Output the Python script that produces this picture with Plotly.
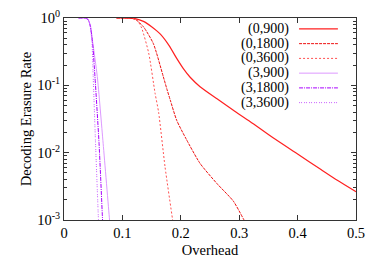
import plotly.graph_objects as go

# ---- data (overhead vs decoding erasure rate, exponents of 10) ----
x_0_900 = [0.09, 0.110, 0.122, 0.136, 0.150, 0.165, 0.180, 0.193, 0.205, 0.216, 0.233, 0.262, 0.290, 0.319, 0.358, 0.400, 0.440, 0.468, 0.500]
y_0_900 = [0.0, -0.001, -0.01, -0.05, -0.13, -0.24, -0.41, -0.60, -0.76, -0.88, -1.02, -1.20, -1.37, -1.54, -1.78, -2.02, -2.25, -2.41, -2.58]

x_0_1800 = [0.09, 0.110, 0.122, 0.136, 0.153, 0.170, 0.176, 0.182, 0.193, 0.210, 0.233, 0.262, 0.290, 0.307, 0.312]
y_0_1800 = [0.0, -0.001, -0.02, -0.13, -0.38, -0.87, -1.05, -1.22, -1.52, -1.81, -2.16, -2.46, -2.72, -2.98, -3.06]

x_0_3600 = [0.09, 0.110, 0.120, 0.126, 0.133, 0.145, 0.156, 0.162, 0.173, 0.186, 0.190]
y_0_3600 = [0.0, -0.001, -0.01, -0.04, -0.15, -0.52, -1.12, -1.40, -2.21, -3.0, -3.25]

x_3_900 = [0.025, 0.036, 0.041, 0.045, 0.049, 0.057, 0.067, 0.078, 0.080]
y_3_900 = [0.0, -0.001, -0.02, -0.10, -0.35, -0.87, -1.86, -3.0, -3.2]

x_3_1800 = [0.025, 0.036, 0.041, 0.045, 0.049, 0.053, 0.060, 0.066, 0.067]
y_3_1800 = [0.0, -0.001, -0.02, -0.12, -0.38, -0.87, -1.86, -3.0, -3.2]

x_3_3600 = [0.025, 0.036, 0.041, 0.045, 0.048, 0.050, 0.054, 0.059, 0.060]
y_3_3600 = [0.0, -0.001, -0.02, -0.13, -0.38, -0.87, -1.86, -3.0, -3.2]

series_names = ["(0,900)", "(0,1800)", "(0,3600)", "(3,900)", "(3,1800)", "(3,3600)"]
y_tick_vals = [1, 0.1, 0.01, 0.001]
y_tick_text = ["10<sup>0</sup>", "10<sup>-1</sup>", "10<sup>-2</sup>", "10<sup>-3</sup>"]
x_tick_vals = [0, 0.1, 0.2, 0.3, 0.4, 0.5]
x_tick_text = ["0", "0.1", "0.2", "0.3", "0.4", "0.5"]

series = [
    (x_0_900, y_0_900, "#ff2020", "solid", 1.2),
    (x_0_1800, y_0_1800, "#ee1010", "3px,1px", 1.0),
    (x_0_3600, y_0_3600, "#ff5050", "2px,2px", 1.0),
    (x_3_900, y_3_900, "#dd99ff", "solid", 1.0),
    (x_3_1800, y_3_1800, "#a800ff", "4px,1px,1px,1px", 1.0),
    (x_3_3600, y_3_3600, "#c860ff", "1px,1px,1px,2px", 1.0),
]

FONT = "Liberation Serif, Times New Roman, serif"
FS = 14.5

fig = go.Figure()
for name, (xs, ys, col, dash, w) in zip(series_names, series):
    fig.add_trace(go.Scatter(
        x=xs, y=[10 ** v for v in ys], mode="lines", name=name,
        line=dict(color=col, dash=dash, width=w, shape="spline", smoothing=0.6),
        showlegend=False, cliponaxis=True,
    ))

# manual legend: text on the left, sample line on the right (gnuplot style)
legend_rows = [0.946, 0.873, 0.800, 0.727, 0.654, 0.581]
for name, (xs, ys, col, dash, w), ry in zip(series_names, series, legend_rows):
    fig.add_annotation(x=0.775, y=ry, xref="paper", yref="paper", text=name,
                       showarrow=False, xanchor="right", yanchor="middle",
                       borderpad=0,
                       font=dict(family=FONT, size=14, color="#000"))
    fig.add_shape(type="line", xref="paper", yref="paper",
                  x0=0.805, x1=0.938, y0=ry, y1=ry,
                  line=dict(color=col, dash=dash, width=w))

axis_common = dict(
    showline=True, linecolor="#333", linewidth=1, mirror="ticks",
    ticks="inside", tickcolor="#333", ticklen=5, showgrid=False, zeroline=False,
    automargin=False,
    tickfont=dict(family=FONT, size=FS, color="#000"),
)

fig.update_xaxes(range=[0, 0.5], tickvals=x_tick_vals, ticktext=x_tick_text,
                 title=dict(text="Overhead", font=dict(family=FONT, size=FS, color="#000"), standoff=4),
                 **axis_common)
fig.update_yaxes(type="log", range=[-3, 0], tickvals=y_tick_vals, ticktext=y_tick_text,
                 title=dict(text="Decoding Erasure Rate", font=dict(family=FONT, size=FS, color="#000"), standoff=2),
                 minor=dict(ticks="inside", ticklen=3, tickcolor="#333",
                            tickvals=[m * 10 ** e for e in (-3, -2, -1) for m in range(2, 10)],
                            showgrid=False),
                 **axis_common)

fig.update_layout(
    width=383, height=268,
    margin=dict(l=64, r=27, t=18, b=48),
    plot_bgcolor="white", paper_bgcolor="white",
    font=dict(family=FONT, size=FS, color="#000"),
)

fig.write_html("out.html", config={"displayModeBar": False},
               post_script="document.body.style.margin='0';document.body.style.padding='0';")
